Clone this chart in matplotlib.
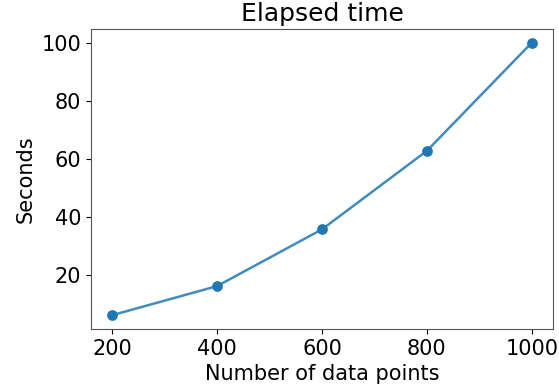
import matplotlib
matplotlib.use("Agg")
import matplotlib.pyplot as plt

# data
n_points = [200, 400, 600, 800, 1000]
seconds = [6.3, 16.3, 35.8, 62.8, 100.0]

fig = plt.figure(figsize=(5.59, 3.91), dpi=100)
ax = fig.add_axes([0.163, 0.159, 0.826, 0.767])

ax.plot(n_points, seconds, color='C0', alpha=0.85, lw=1.8)
ax.scatter(n_points, seconds, color='C0', s=45, zorder=3)

ax.set_title("Elapsed time", fontsize=18)
ax.set_xlabel("Number of data points", fontsize=15)
ax.set_ylabel("Seconds", fontsize=15)
ax.set_xticks(n_points)
ax.set_yticks([20, 40, 60, 80, 100])
ax.tick_params(labelsize=15)
for s in ax.spines.values():
    s.set_color('#555555')

fig.savefig("out.png", dpi=100)
